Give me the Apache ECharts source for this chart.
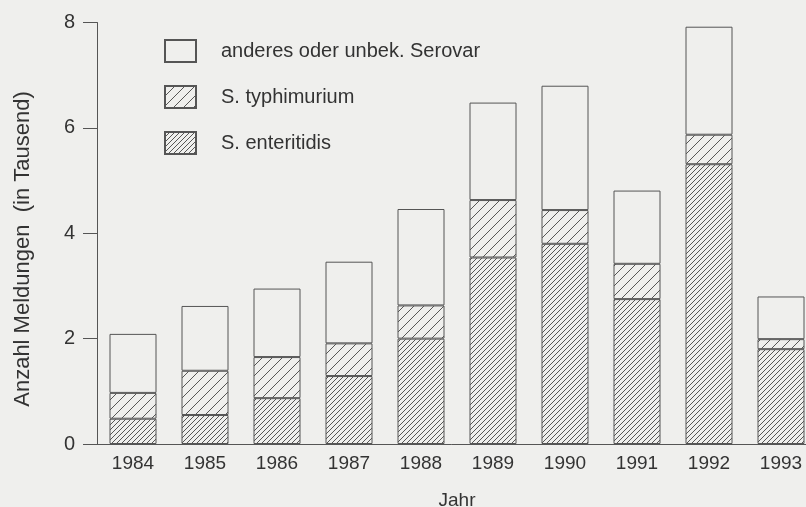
<!DOCTYPE html>
<html>
<head>
<meta charset="utf-8">
<script src="https://cdn.jsdelivr.net/npm/echarts@6/dist/echarts.min.js"></script>
<style>
  html, body { margin: 0; padding: 0; background: #efefed; }
  #chart { width: 806px; height: 507px; }
</style>
</head>
<body>
<div id="chart"></div>
<script>
// Jahre und Meldungen (in Tausend), gestapelt
var years = ['1984', '1985', '1986', '1987', '1988', '1989', '1990', '1991', '1992', '1993'];
var enteritidis = [0.48, 0.55, 0.87, 1.29, 2.00, 3.54, 3.80, 2.75, 5.31, 1.80];
var typhimurium = [0.49, 0.84, 0.78, 0.62, 0.63, 1.09, 0.64, 0.67, 0.56, 0.19];
var anderes = [1.12, 1.23, 1.30, 1.55, 1.83, 1.85, 2.36, 1.39, 2.05, 0.81];
var yTicks = [0, 2, 4, 6, 8];

var BG = '#efefed';
var INK = '#444';
var FONT = 'Liberation Sans';

// schraffur als canvas-kachel
function hatch(step) {
  var c = document.createElement('canvas');
  c.width = step; c.height = step;
  var ctx = c.getContext('2d');
  ctx.fillStyle = BG;
  ctx.fillRect(0, 0, step, step);
  ctx.strokeStyle = INK;
  ctx.lineWidth = 0.9;
  ctx.beginPath();
  ctx.moveTo(0, step); ctx.lineTo(step, 0);
  ctx.moveTo(-1, 1); ctx.lineTo(1, -1);
  ctx.moveTo(step - 1, step + 1); ctx.lineTo(step + 1, step - 1);
  ctx.stroke();
  return { image: c, repeat: 'repeat' };
}

function barSeries(name, data, fill) {
  return {
    name: name,
    type: 'bar',
    stack: 'total',
    barWidth: 47,
    data: data,
    itemStyle: { color: fill, borderColor: '#555', borderWidth: 1 },
    emphasis: { disabled: true }
  };
}

var chart = echarts.init(document.getElementById('chart'));
chart.setOption({
  backgroundColor: BG,
  animation: false,
  textStyle: { fontFamily: FONT },
  grid: { left: 97, top: 22.5, bottom: 63, width: 720, containLabel: false, outerBoundsMode: 'none' },
  legend: {
    orient: 'vertical',
    left: 159,
    top: 34,
    itemWidth: 31,
    itemHeight: 22,
    itemGap: 22,
    icon: 'rect',
    selectedMode: false,
    data: ['anderes oder unbek. Serovar', 'S. typhimurium', 'S. enteritidis'],
    textStyle: { fontSize: 20, color: '#333', fontFamily: FONT, padding: [0, 0, 0, 20] }
  },
  xAxis: {
    type: 'category',
    data: years,
    name: 'Jahr',
    nameLocation: 'middle',
    nameGap: 47,
    nameTextStyle: { fontSize: 19, color: '#333' },
    axisLine: { lineStyle: { color: '#555', width: 1 } },
    axisTick: { show: false },
    axisLabel: { fontSize: 19, color: '#333', margin: 10 }
  },
  yAxis: {
    type: 'value',
    min: yTicks[0],
    max: yTicks[yTicks.length - 1],
    interval: 2,
    axisLine: { show: true, lineStyle: { color: '#555', width: 1 } },
    axisTick: { show: true, length: 14, lineStyle: { color: '#555' } },
    axisLabel: { fontSize: 20, color: '#333', margin: 22 },
    splitLine: { show: false }
  },
  graphic: [{
    type: 'text',
    x: 23,
    y: 249,
    rotation: Math.PI / 2,
    style: {
      text: 'Anzahl Meldungen  (in Tausend)',
      fontSize: 22,
      fontFamily: FONT,
      fill: '#333',
      align: 'center',
      verticalAlign: 'middle'
    }
  }],
  series: [
    barSeries('S. enteritidis', enteritidis, hatch(5)),
    barSeries('S. typhimurium', typhimurium, hatch(10)),
    barSeries('anderes oder unbek. Serovar', anderes, BG)
  ]
});
</script>
</body>
</html>
